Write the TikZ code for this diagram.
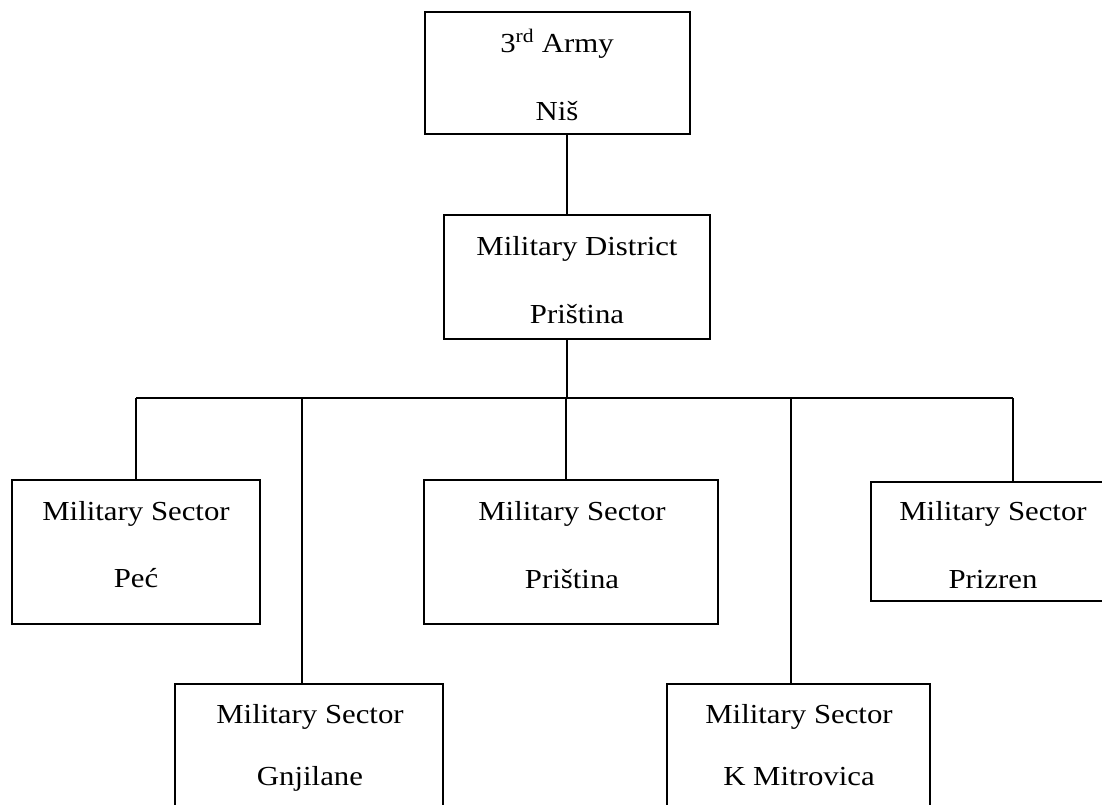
\documentclass[tikz,border=0pt]{standalone}
\usepackage{fontspec}
\setmainfont{Liberation Serif}[FakeStretch=1.12]
\begin{document}
\begin{tikzpicture}[x=1pt,y=-1pt,
  box/.style={draw, line width=2pt, rectangle, inner sep=0pt},
  lbl/.style={anchor=base, inner sep=0pt, font=\fontsize{27.5}{32}\selectfont},
  conn/.style={line width=2pt}]
\useasboundingbox (0,0) rectangle (1102,804);
\clip (0,0) rectangle (1102,804);
% boxes
\node[box, minimum width=265pt, minimum height=122pt] (army) at (557.5,73) {};
\node[box, minimum width=266pt, minimum height=124pt] (district) at (577,277) {};
\node[box, minimum width=248pt, minimum height=144pt] (pec) at (136,552) {};
\node[box, minimum width=294pt, minimum height=144pt] (pristina) at (571,552) {};
\node[box, minimum width=244pt, minimum height=119pt] (prizren) at (993,541.5) {};
\node[box, minimum width=268pt, minimum height=150pt] (gnjilane) at (309,759) {};
\node[box, minimum width=263pt, minimum height=150pt] (mitrovica) at (798.5,759) {};
% labels
\node[lbl] (t1) at (557,52) {3\textsuperscript{rd} Army};
\node[lbl] (t2) at (557,120) {Niš};
\node[lbl] (t3) at (577,255) {Military District};
\node[lbl] (t4) at (577,323) {Priština};
\node[lbl] (t5) at (136,520) {Military Sector};
\node[lbl] (t6) at (136,587) {Peć};
\node[lbl] (t7) at (572,520) {Military Sector};
\node[lbl] (t8) at (572,588) {Priština};
\node[lbl] (t9) at (993,520) {Military Sector};
\node[lbl] (t10) at (993,588) {Prizren};
\node[lbl] (t11) at (310,723) {Military Sector};
\node[lbl] (t12) at (310,785) {Gnjilane};
\node[lbl] (t13) at (799,723) {Military Sector};
\node[lbl] (t14) at (799,785) {K Mitrovica};
% connectors
\coordinate (stem) at (567,398);
\coordinate (j1) at (136,398);
\coordinate (j2) at (302,398);
\coordinate (j3) at (566,398);
\coordinate (j4) at (791,398);
\coordinate (j5) at (1013,398);
\draw[conn] (army.south -| stem) -- (district.north -| stem);
\draw[conn] (district.south -| stem) -- (stem);
\draw[conn] (j1) -- (j5);
\draw[conn] (j1) -- (pec.north -| j1);
\draw[conn] (j2) -- (gnjilane.north -| j2);
\draw[conn] (j3) -- (pristina.north -| j3);
\draw[conn] (j4) -- (mitrovica.north -| j4);
\draw[conn] (j5) -- (prizren.north -| j5);
\end{tikzpicture}
\end{document}
